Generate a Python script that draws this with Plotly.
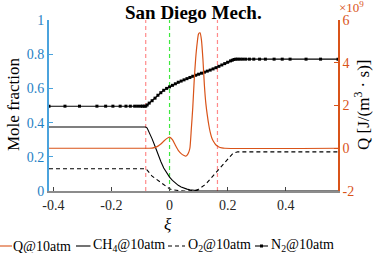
import plotly.graph_objects as go

# ---------------- data ----------------
xi = [-0.415, -0.36, -0.31, -0.25, -0.22, -0.195, -0.17, -0.15, -0.135, -0.12, -0.11, -0.10, -0.093, -0.087, -0.082,
      -0.077, -0.07, -0.06, -0.05, -0.04, -0.03, -0.02, -0.01, 0.0,
      0.01, 0.02, 0.03, 0.04, 0.05, 0.06, 0.07, 0.08, 0.09, 0.10, 0.11, 0.12, 0.13, 0.14, 0.15, 0.16, 0.17, 0.18, 0.19, 0.20, 0.21,
      0.216, 0.222, 0.228, 0.235, 0.243, 0.252, 0.262, 0.275, 0.29, 0.31, 0.33, 0.36, 0.388, 0.415, 0.47, 0.52, 0.58]

n2 = [0.496, 0.496, 0.496, 0.496, 0.496, 0.496, 0.496, 0.496, 0.496, 0.496, 0.496, 0.496, 0.496, 0.496, 0.496,
      0.503, 0.514, 0.528, 0.543, 0.56, 0.575, 0.589, 0.6, 0.609,
      0.618, 0.627, 0.636, 0.643, 0.65, 0.657, 0.664, 0.671, 0.677, 0.683, 0.689, 0.695, 0.701, 0.707, 0.714, 0.721, 0.729, 0.737, 0.745, 0.753, 0.761,
      0.765, 0.769, 0.771, 0.771, 0.771, 0.771, 0.771, 0.771, 0.771, 0.771, 0.771, 0.771, 0.771, 0.771, 0.771, 0.771, 0.771]

ch4 = [0.374, 0.374, 0.374, 0.374, 0.374, 0.374, 0.374, 0.374, 0.374, 0.374, 0.374, 0.374, 0.374, 0.374, 0.374,
       0.368, 0.345, 0.305, 0.262, 0.215, 0.173, 0.135, 0.104, 0.081,
       0.062, 0.046, 0.033, 0.024, 0.016, 0.011, 0.007, 0.004, 0.002, 0.001, 0.0, 0.0, 0.0, 0.0, 0.0, 0.0, 0.0, 0.0, 0.0, 0.0, 0.0,
       0.0, 0.0, 0.0, 0.0, 0.0, 0.0, 0.0, 0.0, 0.0, 0.0, 0.0, 0.0, 0.0, 0.0, 0.0, 0.0, 0.0]

o2 = [0.13, 0.13, 0.13, 0.13, 0.13, 0.13, 0.13, 0.13, 0.13, 0.13, 0.13, 0.13, 0.13, 0.13, 0.13,
      0.122, 0.107, 0.087, 0.075, 0.062, 0.049, 0.036, 0.024, 0.013,
      0.007, 0.004, 0.002, 0.001, 0.0, 0.0, 0.001, 0.002, 0.004, 0.01, 0.02, 0.034, 0.05, 0.069, 0.088, 0.108, 0.128, 0.148, 0.168, 0.188, 0.206,
      0.216, 0.223, 0.227, 0.229, 0.229, 0.229, 0.229, 0.229, 0.229, 0.229, 0.229, 0.229, 0.229, 0.229, 0.229, 0.229, 0.229]

# heat release rate, in units of 1e9 J/(m^3 s)
xi_q = [-0.415, -0.07, -0.06, -0.05, -0.04, -0.03, -0.02, -0.01, 0.0, 0.01, 0.02, 0.03, 0.04, 0.05, 0.055,
        0.06, 0.065, 0.07, 0.075, 0.08, 0.085, 0.09, 0.095, 0.10, 0.105, 0.11, 0.115, 0.12, 0.125, 0.13,
        0.135, 0.14, 0.145, 0.15, 0.16, 0.17, 0.18, 0.19, 0.58]
q_1e9 = [0.0, 0.0, 0.01, 0.04, 0.1, 0.2, 0.33, 0.45, 0.52, 0.4, 0.14, -0.1, -0.25, -0.34, -0.37,
         -0.33, -0.22, 0.0, 0.9, 1.9, 3.2, 4.2, 4.9, 5.35, 5.4, 5.05, 4.15, 2.95, 2.1, 1.55,
         1.1, 0.75, 0.5, 0.35, 0.15, 0.06, 0.02, 0.0, 0.0]

flame_edges = [-0.082, 0.165]
stoich_xi = 0.0

x_tickvals = [-0.4, -0.2, 0.0, 0.2, 0.4]
x_ticktext = ["-0.4", "-0.2", "0", "0.2", "0.4"]
y_tickvals = [0, 0.2, 0.4, 0.6, 0.8, 1.0]
y_ticktext = ["0", "0.2", "0.4", "0.6", "0.8", "1"]
q_tickvals = [-2, 0, 2, 4, 6]
q_ticktext = ["-2", "0", "2", "4", "6"]

legend_labels = ["Q@10atm", "CH<sub>4</sub>@10atm", "O<sub>2</sub>@10atm", "N<sub>2</sub>@10atm"]

# ---------------- layout helpers ----------------
W, H = 374, 253
L, R, T, B = 49, 36, 20, 62
PW, PH = W - L - R, H - T - B


def px(x):
    return (x - L) / PW


def py(y):
    return (H - B - y) / PH


FONT = "Liberation Serif"
BLUE_LINE = "#4ba3dd"
BLUE_TXT = "#1f7fc4"
ORANGE = "#D95319"
PINK = "#ff8a8a"
GREEN = "#3ee83e"

fig = go.Figure()

fig.add_trace(go.Scatter(x=xi, y=ch4, mode="lines", name="CH4@10atm",
                         line=dict(color="black", width=1.1), yaxis="y"))
fig.add_trace(go.Scatter(x=xi, y=o2, mode="lines", name="O2@10atm",
                         line=dict(color="black", width=1.1, dash="4px,3px"), yaxis="y"))
fig.add_trace(go.Scatter(x=xi, y=n2, mode="lines+markers", name="N2@10atm",
                         line=dict(color="black", width=1.1),
                         marker=dict(symbol="square", size=3, color="black"), yaxis="y"))
fig.add_trace(go.Scatter(x=xi_q, y=q_1e9, mode="lines", name="Q@10atm",
                         line=dict(color=ORANGE, width=1.2, shape="spline", smoothing=0.6), yaxis="y2"))

for xe in flame_edges:
    fig.add_vline(x=xe, line_color=PINK, line_width=1.2, line_dash="4px,3px", layer="below")
fig.add_vline(x=stoich_xi, line_color=GREEN, line_width=1.2, line_dash="4px,3px", layer="below")

fig.update_layout(
    width=W, height=H,
    margin=dict(l=L, r=R, t=T, b=B, pad=0),
    paper_bgcolor="white", plot_bgcolor="white",
    showlegend=False,
    font=dict(family=FONT, size=14, color="black"),
    xaxis=dict(range=[-0.415, 0.58], tickvals=x_tickvals, ticktext=x_ticktext,
               showgrid=False, zeroline=False, showline=True, linecolor="#8c8c8c", linewidth=2,
               ticks="inside", ticklen=4, tickcolor="#444444", tickwidth=1,
               tickfont=dict(family=FONT, size=14, color="#262626"), automargin=False),
    yaxis=dict(range=[0, 1], tickvals=y_tickvals, ticktext=y_ticktext,
               showgrid=False, zeroline=False, showline=True, linecolor=BLUE_LINE, linewidth=2,
               ticks="inside", ticklen=4, tickcolor=BLUE_LINE, tickwidth=1,
               tickfont=dict(family=FONT, size=14, color=BLUE_TXT), automargin=False),
    yaxis2=dict(range=[-2, 6], tickvals=q_tickvals, ticktext=q_ticktext, overlaying="y", side="right",
                anchor="x", showgrid=False, zeroline=False, showline=True, linecolor=ORANGE, linewidth=1.5,
                ticks="inside", ticklen=4, tickcolor=ORANGE, tickwidth=1,
                tickfont=dict(family=FONT, size=14, color=ORANGE), automargin=False),
)

ann = []
ann.append(dict(text="<b>San Diego Mech.</b>", x=0.5, y=py(12), xref="paper", yref="paper",
                showarrow=False, font=dict(family=FONT, size=19, color="black"),
                xanchor="center", yanchor="middle"))
ann.append(dict(text="×10<sup>9</sup>", x=px(339), y=py(-1), xref="paper", yref="paper",
                showarrow=False, font=dict(family=FONT, size=13, color=ORANGE),
                xanchor="left", yanchor="top", borderpad=0, borderwidth=0))
ann.append(dict(text="Mole fraction", x=px(13), y=py(105), xref="paper", yref="paper",
                showarrow=False, textangle=-90, font=dict(family=FONT, size=17, color="black"),
                xanchor="center", yanchor="middle"))
ann.append(dict(text="Q [J/(m<sup>3</sup> · s)]", x=px(362), y=py(105), xref="paper", yref="paper",
                showarrow=False, textangle=-90, font=dict(family=FONT, size=17, color="black"),
                xanchor="center", yanchor="middle", borderpad=0, borderwidth=0))
ann.append(dict(text="<i>ξ</i>", x=px(168), y=py(224), xref="paper", yref="paper",
                showarrow=False, font=dict(family=FONT, size=17, color="black"),
                xanchor="center", yanchor="middle"))

# manual one-row legend below the axes
leg_y = 246.0
samples = [  # (x0, x1, text_x, color, dash, marker)
    (0, 12, 13, ORANGE, "solid", False),
    (76, 90.5, 92.5, "black", "solid", False),
    (168, 185, 187.5, "black", "4px,3px", False),
    (255, 268, 271, "black", "solid", True),
]
shapes = []
for (x0, x1, tx, col, dash, mk), lab in zip(samples, legend_labels):
    shapes.append(dict(type="line", xref="paper", yref="paper", x0=px(x0), x1=px(x1),
                       y0=py(leg_y), y1=py(leg_y), line=dict(color=col, width=1.1, dash=dash)))
    if mk:
        cx = (x0 + x1) / 2
        shapes.append(dict(type="rect", xref="paper", yref="paper", x0=px(cx - 1.5), x1=px(cx + 1.5),
                           y0=py(leg_y + 1.5), y1=py(leg_y - 1.5), fillcolor="black",
                           line=dict(width=0)))
    ann.append(dict(text=lab, x=px(tx), y=py(253.5), xref="paper", yref="paper", showarrow=False,
                    font=dict(family=FONT, size=14, color="black"), xanchor="left", yanchor="bottom",
                    borderpad=0, borderwidth=0))

fig.update_layout(annotations=ann)
for s in shapes:
    fig.add_shape(**s)

fig.write_html("out.html", config={"displayModeBar": False},
               post_script="document.body.style.margin='0';document.body.style.overflow='hidden';")
